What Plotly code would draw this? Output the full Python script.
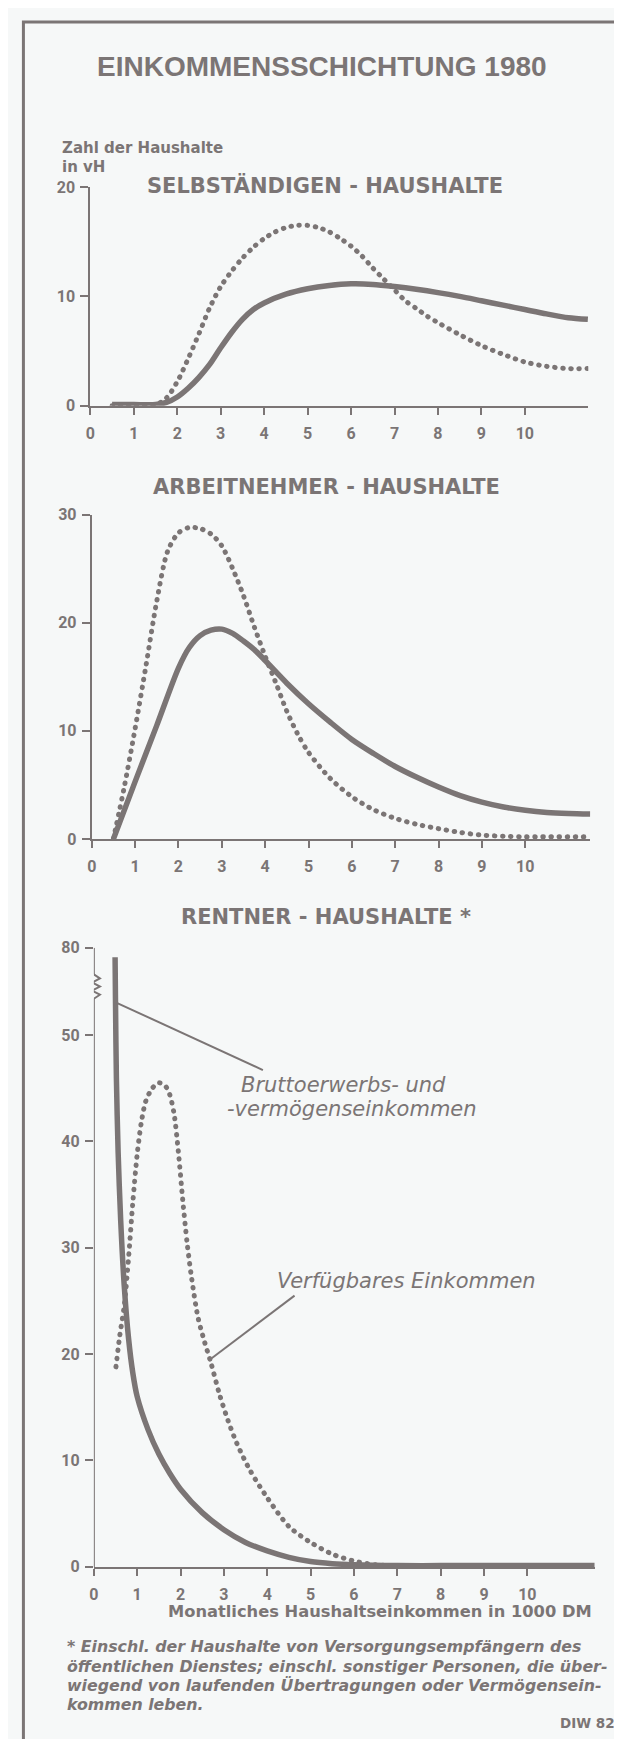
import plotly.graph_objects as go

W, H = 622, 1739
GREY = '#7b7575'
BG = '#f6f8f8'

# ---------------- data ----------------
x_ticks = [0, 1, 2, 3, 4, 5, 6, 7, 8, 9, 10]
x_tick_labels = ['0', '1', '2', '3', '4', '5', '6', '7', '8', '9', '10']

# Selbständigen-Haushalte
sel_solid_x = [0.5, 1.0, 1.5, 1.75, 2.0, 2.25, 2.5, 2.75, 3.0, 3.25, 3.5, 3.75, 4.0, 4.5, 5.0, 5.5, 6.0, 6.5, 7.0, 7.5, 8.0, 8.5, 9.0, 9.5, 10.0, 10.5, 11.0, 11.45]
sel_solid_y = [0.1, 0.1, 0.1, 0.3, 0.8, 1.6, 2.6, 3.8, 5.3, 6.7, 7.9, 8.8, 9.4, 10.2, 10.7, 11.0, 11.15, 11.1, 10.9, 10.65, 10.35, 10.0, 9.6, 9.2, 8.8, 8.4, 8.05, 7.9]
sel_dot_x = [0.5, 1.0, 1.5, 1.75, 2.0, 2.25, 2.5, 2.75, 3.0, 3.25, 3.5, 3.75, 4.0, 4.25, 4.5, 4.75, 5.0, 5.25, 5.5, 5.75, 6.0, 6.25, 6.5, 6.75, 7.0, 7.25, 7.5, 7.75, 8.0, 8.5, 9.0, 9.5, 10.0, 10.5, 11.0, 11.45]
sel_dot_y = [0.0, 0.0, 0.1, 0.7, 2.2, 4.3, 6.6, 9.0, 10.9, 12.3, 13.5, 14.5, 15.3, 15.9, 16.3, 16.5, 16.5, 16.3, 15.9, 15.3, 14.6, 13.7, 12.6, 11.6, 10.6, 9.6, 8.9, 8.2, 7.6, 6.5, 5.5, 4.7, 4.0, 3.6, 3.4, 3.4]
sel_y_ticks = [0, 10, 20]

# Arbeitnehmer-Haushalte
arb_solid_x = [0.5, 1.0, 1.5, 2.0, 2.25, 2.5, 2.75, 3.0, 3.25, 3.5, 3.75, 4.0, 4.5, 5.0, 5.5, 6.0, 6.5, 7.0, 7.5, 8.0, 8.5, 9.0, 9.5, 10.0, 10.5, 11.0, 11.5]
arb_solid_y = [0.0, 5.3, 10.5, 15.8, 17.7, 18.8, 19.3, 19.4, 19.0, 18.3, 17.5, 16.5, 14.4, 12.5, 10.8, 9.2, 7.9, 6.7, 5.7, 4.8, 4.0, 3.4, 2.95, 2.65, 2.45, 2.35, 2.3]
arb_dot_x = [0.5, 0.75, 1.0, 1.25, 1.5, 1.75, 2.0, 2.25, 2.5, 2.75, 3.0, 3.25, 3.5, 3.75, 4.0, 4.25, 4.5, 4.75, 5.0, 5.5, 6.0, 6.5, 7.0, 7.5, 8.0, 8.5, 9.0, 9.5, 10.0, 11.5]
arb_dot_y = [0.0, 4.8, 10.2, 16.0, 22.0, 26.6, 28.3, 28.8, 28.7, 28.2, 27.1, 25.0, 22.5, 19.6, 16.9, 14.4, 11.8, 9.7, 8.0, 5.6, 3.9, 2.7, 1.9, 1.35, 0.95, 0.6, 0.35, 0.25, 0.2, 0.2]
arb_y_ticks = [0, 10, 20, 30]

# Rentner-Haushalte (real values; axis broken above 50)
ren_solid_x = [0.49, 0.5, 0.52, 0.56, 0.62, 0.7, 0.8, 0.9, 1.0, 1.25, 1.5, 1.75, 2.0, 2.5, 3.0, 3.5, 4.0, 4.5, 5.0, 5.5, 6.0, 7.0, 8.0, 10.0, 11.55]
ren_solid_y = [78.0, 53.0, 46.0, 39.0, 32.5, 26.5, 21.5, 18.2, 16.0, 12.9, 10.6, 8.8, 7.3, 5.1, 3.5, 2.3, 1.5, 0.9, 0.5, 0.3, 0.2, 0.12, 0.12, 0.12, 0.12]
ren_dot_x = [0.51, 0.6, 0.7, 0.8, 0.9, 1.0, 1.1, 1.2, 1.35, 1.5, 1.65, 1.75, 1.85, 1.95, 2.05, 2.15, 2.25, 2.4, 2.55, 2.7, 2.9, 3.1, 3.3, 3.6, 4.0, 4.5, 5.0, 5.5, 6.0, 6.5, 7.0]
ren_dot_y = [18.8, 21.8, 24.5, 29.0, 34.3, 38.8, 41.9, 43.8, 45.0, 45.5, 45.2, 44.4, 42.6, 39.0, 34.5, 30.5, 27.3, 23.5, 21.2, 19.2, 16.2, 13.7, 11.6, 9.1, 6.5, 3.8, 2.3, 1.2, 0.55, 0.2, 0.08]
ren_y_ticks = [0, 10, 20, 30, 40, 50, 80]

# axis break of the Rentner panel
BREAK_LIN = 53.0          # top of the linear part
BREAK_ZIG = [53.4, 55.7]  # zig-zag span on the axis (axis units)
BREAK_REAL_HI = 75.0
TOP_REAL = 80.0
TOP_AXIS = 58.2
TOP_SCALE = 0.45


def ren_axis(v):
    top_lo = TOP_AXIS - (TOP_REAL - BREAK_REAL_HI) * TOP_SCALE
    if v <= BREAK_LIN:
        return v
    if v >= BREAK_REAL_HI:
        return TOP_AXIS - (TOP_REAL - v) * TOP_SCALE
    return BREAK_LIN + (v - BREAK_LIN) * (top_lo - BREAK_LIN) / (BREAK_REAL_HI - BREAK_LIN)


# ---------------- layout helpers ----------------
def PX(x):
    return x / W


def PY(y):
    return 1 - y / H


fig = go.Figure()

solid_style = dict(color=GREY, width=5.5, shape='spline', smoothing=0.8)
dot_style = dict(color=GREY, width=5, dash='3px,4.5px', shape='spline', smoothing=0.8)

panels = [
    ('x', 'y', sel_dot_x, sel_dot_y, sel_solid_x, sel_solid_y),
    ('x2', 'y2', arb_dot_x, arb_dot_y, arb_solid_x, arb_solid_y),
    ('x3', 'y3', ren_dot_x, ren_dot_y, ren_solid_x, [ren_axis(v) for v in ren_solid_y]),
]
for xa, ya, dx, dy, sx, sy in panels:
    fig.add_trace(go.Scatter(x=dx, y=dy, mode='lines', line=dot_style, xaxis=xa, yaxis=ya,
                             cliponaxis=False, hoverinfo='skip'))
    fig.add_trace(go.Scatter(x=sx, y=sy, mode='lines', line=solid_style, xaxis=xa, yaxis=ya,
                             cliponaxis=False, hoverinfo='skip'))

tickfont = dict(family='Roboto', size=16, color=GREY, weight=700)


def xaxis(origin, unit, xmax, ybottom_anchor):
    return dict(domain=[PX(origin), PX(origin + unit * xmax)], range=[0, xmax],
                tickvals=x_ticks, ticktext=x_tick_labels, showgrid=False, zeroline=False,
                showline=True, linecolor=GREY, linewidth=2, ticks='outside', ticklen=7,
                tickwidth=2, tickcolor=GREY, tickfont=tickfont, ticklabelstandoff=5,
                anchor=ybottom_anchor, fixedrange=True)


def yaxis(ybot, ytop, rng, tv, tt, xanchor, showline=True):
    return dict(domain=[PY(ybot), PY(ytop)], range=rng, tickvals=tv, ticktext=tt,
                showgrid=False, zeroline=False, showline=showline, linecolor=GREY, linewidth=2,
                ticks='outside', ticklen=8, tickwidth=2, tickcolor=GREY, tickfont=tickfont,
                ticklabelstandoff=2, anchor=xanchor, fixedrange=True)


fig.update_layout(
    width=W, height=H, autosize=False, margin=dict(l=0, r=0, t=0, b=0),
    paper_bgcolor=BG, plot_bgcolor=BG, showlegend=False,
    xaxis=xaxis(78, 43.8, 11.46, 'y'),
    yaxis=yaxis(393, 172, [0, 20], sel_y_ticks, [str(v) for v in sel_y_ticks], 'x'),
    xaxis2=xaxis(79.4, 43.7, 11.5, 'y2'),
    yaxis2=yaxis(831, 503, [0, 30], arb_y_ticks, [str(v) for v in arb_y_ticks], 'x2'),
    xaxis3=xaxis(81.5, 43.7, 11.57, 'y3'),
    yaxis3=yaxis(1567, 941, [0, TOP_AXIS], [ren_axis(v) if v < 80 else TOP_AXIS for v in ren_y_ticks],
                 [str(v) for v in ren_y_ticks], 'x3', showline=False),
)

shapes = []
# broken y axis of Rentner panel
line_kw = dict(color=GREY, width=2)
shapes.append(dict(type='line', xref='x3', yref='y3', x0=0, x1=0, y0=0, y1=BREAK_ZIG[0], line=line_kw))
zz = BREAK_ZIG
n = 6
pts = []
for i in range(n + 1):
    yy = zz[0] + (zz[1] - zz[0]) * i / n
    xx = 0 if i in (0, n) else (0.14 if i % 2 == 1 else -0.04)
    pts.append(f'{xx},{yy}')
shapes.append(dict(type='path', xref='x3', yref='y3', path='M ' + ' L '.join(pts), line=line_kw))
shapes.append(dict(type='line', xref='x3', yref='y3', x0=0, x1=0, y0=BREAK_ZIG[1], y1=TOP_AXIS, line=line_kw))

# leader lines (curve point -> label)
leaders = [
    (0.54, 53.0, 3.9, 46.7),
    (2.68, 19.5, 4.63, 25.5),
]
for x0, y0, x1, y1 in leaders:
    shapes.append(dict(type='line', xref='x3', yref='y3', x0=x0, y0=y0, x1=x1, y1=y1,
                       line=dict(color=GREY, width=2)))

# outer frame
fr = f'M {PX(10.5)},{PY(1745)} L {PX(10.5)},{PY(5)} L {PX(617.5)},{PY(5)} L {PX(619)},{PY(1745)}'
shapes.append(dict(type='path', xref='paper', yref='paper', path=fr, line=dict(color=GREY, width=3)))
fig.update_layout(shapes=shapes)

ann = []


def text(t, x, y, size, family='DejaVu Sans', anchor='center', weight='normal', style='normal'):
    ann.append(dict(text=t, x=PX(x), y=PY(y), xref='paper', yref='paper', showarrow=False,
                    xanchor=anchor, yanchor='middle',
                    font=dict(family=family, size=size, color=GREY, weight=weight, style=style)))


text('EINKOMMENSSCHICHTUNG 1980', 311.5, 50, 28, family='Liberation Sans', weight='bold')
text('Zahl der Haushalte', 47, 132, 15, anchor='left', weight='bold')
text('in vH', 47, 152, 15, anchor='left', weight='bold')
text('SELBSTÄNDIGEN - HAUSHALTE', 315, 170, 21, weight='bold')
text('ARBEITNEHMER - HAUSHALTE', 316, 475, 21, weight='bold')
text('RENTNER - HAUSHALTE *', 316, 910, 21, weight='bold')
text('Monatliches Haushaltseinkommen in 1000 DM', 586, 1612, 16.3, anchor='right', weight='bold')
text('DIW 82', 609, 1725, 13.5, weight='bold', anchor='right')

foot = [
    '* Einschl. der Haushalte von Versorgungsempfängern des',
    'öffentlichen Dienstes; einschl. sonstiger Personen, die über-',
    'wiegend von laufenden Übertragungen oder Vermögensein-',
    'kommen leben.',
]
for i, line in enumerate(foot):
    text(line, 52, 1648 + i * 19.3, 15.8, anchor='left', style='italic', weight='bold')

# curve labels (data coords of the Rentner panel)
labels = [
    ('Bruttoerwerbs- und', 3.35, 45.3),
    ('-vermögenseinkommen', 3.03, 43.0),
    ('Verfügbares Einkommen', 4.18, 26.9),
]
for t, lx, ly in labels:
    ann.append(dict(text=t, x=lx, y=ly, xref='x3', yref='y3', showarrow=False, xanchor='left',
                    yanchor='middle', font=dict(family='DejaVu Sans', size=21, color=GREY, style='italic')))

fig.update_layout(annotations=ann)

post = """
var gd = document.getElementById('{plot_id}');
function fixDots(){
  gd.querySelectorAll('path.js-line').forEach(function(p){
    var d = p.style.strokeDasharray;
    if (d && d !== 'none') { p.style.strokeLinecap = 'round'; p.style.strokeDasharray = '0.5px, 7.6px'; }
  });
}
fixDots();
if (gd.on) { gd.on('plotly_afterplot', fixDots); }
"""
fig.write_html('out.html', post_script=post)
